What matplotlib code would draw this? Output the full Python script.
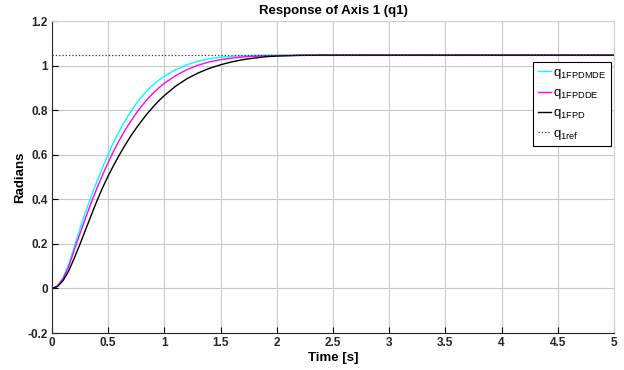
import matplotlib
matplotlib.use("Agg")
import matplotlib.pyplot as plt

plt.rcParams['font.family'] = ['Liberation Sans', 'DejaVu Sans']
plt.rcParams['mathtext.fontset'] = 'custom'
plt.rcParams['mathtext.rm'] = 'Liberation Sans'

# time samples [s]
t = [0, 0.05, 0.1, 0.15, 0.2, 0.25, 0.3, 0.35, 0.4, 0.45, 0.5, 0.55, 0.6, 0.65,
     0.7, 0.75, 0.8, 0.85, 0.9, 0.95, 1.0,
     1.1, 1.2, 1.3, 1.4, 1.5, 1.6, 1.7, 1.8, 1.9, 2.0,
     2.2, 2.4, 3.0, 4.0, 5.0]

q1_fpdmde = [0, 0.012, 0.05, 0.11, 0.19, 0.27, 0.345, 0.415, 0.48, 0.543, 0.603,
             0.658, 0.707, 0.752, 0.793, 0.83, 0.862, 0.89, 0.914, 0.935, 0.953,
             0.982, 1.004, 1.02, 1.031, 1.038, 1.042, 1.044, 1.046, 1.047, 1.047,
             1.047, 1.047, 1.047, 1.047, 1.047]
q1_fpdde = [0, 0.011, 0.045, 0.10, 0.175, 0.248, 0.318, 0.386, 0.45, 0.51, 0.566,
            0.618, 0.666, 0.71, 0.75, 0.787, 0.82, 0.85, 0.877, 0.9, 0.921,
            0.955, 0.982, 1.002, 1.017, 1.027, 1.034, 1.039, 1.042, 1.044, 1.045,
            1.047, 1.047, 1.047, 1.047, 1.047]
q1_fpd = [0, 0.009, 0.036, 0.08, 0.138, 0.2, 0.265, 0.33, 0.393, 0.452, 0.505,
          0.554, 0.6, 0.643, 0.683, 0.72, 0.754, 0.786, 0.815, 0.842, 0.866,
          0.908, 0.941, 0.967, 0.988, 1.004, 1.017, 1.027, 1.034, 1.04, 1.043,
          1.046, 1.047, 1.047, 1.047, 1.047]
q1_ref = 1.0472

fig = plt.figure(figsize=(6.24, 3.70), dpi=100)
ax = fig.add_axes([0.0833, 0.1, 0.9007, 0.843])

ax.plot(t, q1_fpdmde, color='#00ffff', lw=1.0, label=r'q$_{\mathregular{1FPDMDE}}$')
ax.plot(t, q1_fpdde, color='#ff00ff', lw=1.0, label=r'q$_{\mathregular{1FPDDE}}$')
ax.plot(t, q1_fpd, color='black', lw=1.0, label=r'q$_{\mathregular{1FPD}}$')
ax.plot([0, 5], [q1_ref, q1_ref], color='#333333', lw=0.9, ls=':', label=r'q$_{\mathregular{1ref}}$')

ax.set_xlim(0, 5)
ax.set_ylim(-0.2, 1.2)
ax.set_xticks([0, 0.5, 1, 1.5, 2, 2.5, 3, 3.5, 4, 4.5, 5])
ax.set_xticklabels(['0', '0.5', '1', '1.5', '2', '2.5', '3', '3.5', '4', '4.5', '5'])
ax.set_yticks([-0.2, 0, 0.2, 0.4, 0.6, 0.8, 1, 1.2])
ax.set_yticklabels(['-0.2', '0', '0.2', '0.4', '0.6', '0.8', '1', '1.2'])
ax.grid(True, color='#c8c8c8', lw=0.8)
ax.set_axisbelow(True)
ax.tick_params(direction='in', length=4, width=0.8, labelsize=8.5, pad=3,
               top=False, right=False)
for lab in ax.get_xticklabels() + ax.get_yticklabels():
    lab.set_fontweight('bold')
    lab.set_color('#262626')
ax.spines['left'].set_color('#262626')
ax.spines['bottom'].set_color('#262626')
ax.spines['top'].set_color('#d0d0d0')
ax.spines['right'].set_color('#d0d0d0')

ax.set_title('Response of Axis 1 (q1)', fontsize=9.5, fontweight='bold', pad=5)
ax.set_xlabel('Time [s]', fontsize=9.5, fontweight='bold', labelpad=2)
ax.set_ylabel('Radians', fontsize=9.5, fontweight='bold', labelpad=1)

leg = ax.legend(loc='upper right', bbox_to_anchor=(0.995, 0.868), fontsize=9.5,
                frameon=True, fancybox=False, framealpha=1, edgecolor='black',
                handlelength=1.0, handletextpad=0.15, borderpad=0.35, labelspacing=0.45,
                borderaxespad=0)
leg.get_frame().set_linewidth(0.8)

fig.savefig('out.png', dpi=100)
